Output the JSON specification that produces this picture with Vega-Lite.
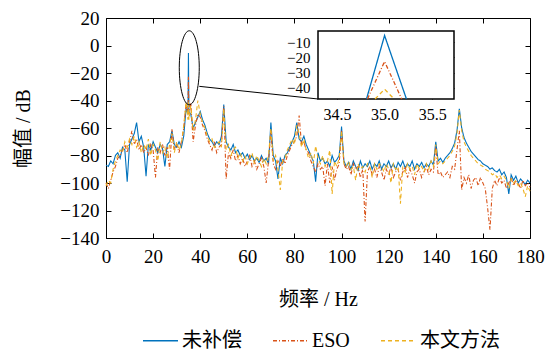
{
"$schema": "https://vega.github.io/schema/vega-lite/v6.json",
"width": 424,
"height": 220,
"padding": {"left": 13, "top": 9, "right": 5, "bottom": 5},
"config": {
  "font": "'Liberation Serif', 'Times New Roman', 'Noto Sans CJK SC', serif",
  "view": {"stroke": "black", "strokeWidth": 1},
  "axis": {"grid": false, "domain": false, "tickSize": -5, "tickColor": "black", "tickWidth": 1, "labelFont": "'Liberation Serif', 'Times New Roman', serif", "labelFontSize": 19, "labelColor": "black", "labelFlush": false, "labelOverlap": false, "titleFont": "'Liberation Serif', 'Times New Roman', 'Noto Sans CJK SC', serif", "titleFontSize": 20, "titleFontWeight": "normal", "titleColor": "black"},
  "legend": {"labelFont": "'Liberation Serif', 'Times New Roman', 'Noto Sans CJK SC', serif", "labelFontSize": 20, "labelColor": "black", "symbolType": "stroke", "symbolSize": 1225, "symbolStrokeWidth": 1.5, "columnPadding": 28, "labelOffset": 3, "padding": 0}
},
"layer": [
  {
    "data": {"values": [
{"f":0,"u":-87,"e":-100,"p":-102},{"f":1,"u":-88,"e":-104,"p":-98},{"f":2,"u":-84,"e":-98,"p":-100},{"f":3,"u":-86,"e":-92,"p":-90},{"f":4,"u":-80,"e":-88,"p":-84},{"f":5,"u":-78,"e":-82,"p":-80},{"f":6,"u":-82,"e":-80,"p":-76},{"f":7,"u":-74,"e":-76,"p":-78},{"f":8,"u":-76,"e":-72,"p":-70},{"f":9,"u":-99,"e":-78,"p":-74},
{"f":10,"u":-72,"e":-70,"p":-68},{"f":11,"u":-68,"e":-62,"p":-72},{"f":12,"u":-64,"e":-72,"p":-66},{"f":13,"u":-56,"e":-68,"p":-74},{"f":14,"u":-70,"e":-76,"p":-70},{"f":15,"u":-66,"e":-72,"p":-78},{"f":16,"u":-74,"e":-78,"p":-72},{"f":17,"u":-95,"e":-74,"p":-76},{"f":18,"u":-72,"e":-80,"p":-68},{"f":19,"u":-76,"e":-72,"p":-80},
{"f":20,"u":-70,"e":-76,"p":-72},{"f":21,"u":-74,"e":-96,"p":-76},{"f":22,"u":-78,"e":-74,"p":-84},{"f":23,"u":-72,"e":-78,"p":-70},{"f":24,"u":-75,"e":-72,"p":-78},{"f":25,"u":-88,"e":-80,"p":-74},{"f":26,"u":-72,"e":-74,"p":-82},{"f":27,"u":-70,"e":-90,"p":-72},{"f":28,"u":-62,"e":-61,"p":-64},{"f":29,"u":-72,"e":-76,"p":-78},
{"f":30,"u":-74,"e":-72,"p":-70},{"f":31,"u":-70,"e":-78,"p":-76},{"f":32,"u":-74,"e":-70,"p":-72},{"f":33,"u":-66,"e":-60,"p":-58},{"f":34,"u":-46,"e":-42,"p":-41},{"f":34.8,"u":-50,"e":-50,"p":-54},{"f":35,"u":-5.5,"e":-22.7,"p":-41},{"f":35.2,"u":-48,"e":-50,"p":-54},{"f":36,"u":-50,"e":-42,"p":-44},{"f":37,"u":-60,"e":-70,"p":-62},{"f":38,"u":-56,"e":-58,"p":-54},{"f":39,"u":-52,"e":-50,"p":-40},
{"f":40,"u":-48,"e":-52,"p":-50},{"f":41,"u":-54,"e":-58,"p":-56},{"f":42,"u":-58,"e":-62,"p":-60},{"f":43,"u":-64,"e":-68,"p":-66},{"f":44,"u":-68,"e":-72,"p":-70},{"f":45,"u":-70,"e":-76,"p":-68},{"f":46,"u":-73,"e":-70,"p":-74},{"f":47,"u":-70,"e":-78,"p":-72},{"f":48,"u":-72,"e":-74,"p":-70},{"f":49,"u":-66,"e":-72,"p":-74},
{"f":50,"u":-43,"e":-44,"p":-46},{"f":51,"u":-70,"e":-97,"p":-76},{"f":52,"u":-74,"e":-78,"p":-72},{"f":53,"u":-76,"e":-82,"p":-80},{"f":54,"u":-72,"e":-76,"p":-76},{"f":55,"u":-78,"e":-84,"p":-74},{"f":56,"u":-76,"e":-80,"p":-82},{"f":57,"u":-80,"e":-86,"p":-78},{"f":58,"u":-78,"e":-82,"p":-84},{"f":59,"u":-82,"e":-88,"p":-80},
{"f":60,"u":-79,"e":-84,"p":-86},{"f":61,"u":-83,"e":-80,"p":-82},{"f":62,"u":-80,"e":-88,"p":-78},{"f":63,"u":-84,"e":-84,"p":-86},{"f":64,"u":-82,"e":-90,"p":-80},{"f":65,"u":-85,"e":-86,"p":-84},{"f":66,"u":-80,"e":-82,"p":-88},{"f":67,"u":-84,"e":-88,"p":-82},{"f":68,"u":-82,"e":-100,"p":-86},{"f":69,"u":-86,"e":-84,"p":-80},
{"f":70,"u":-56,"e":-62,"p":-60},{"f":71,"u":-80,"e":-86,"p":-84},{"f":72,"u":-84,"e":-90,"p":-80},{"f":73,"u":-97,"e":-84,"p":-90},{"f":74,"u":-82,"e":-88,"p":-105},{"f":75,"u":-86,"e":-82,"p":-84},{"f":76,"u":-80,"e":-86,"p":-82},{"f":77,"u":-78,"e":-80,"p":-76},{"f":78,"u":-74,"e":-76,"p":-72},{"f":79,"u":-70,"e":-72,"p":-68},
{"f":80,"u":-66,"e":-70,"p":-72},{"f":81,"u":-56,"e":-66,"p":-58},{"f":82,"u":-68,"e":-51,"p":-64},{"f":83,"u":-70,"e":-72,"p":-74},{"f":84,"u":-66,"e":-70,"p":-68},{"f":85,"u":-72,"e":-76,"p":-76},{"f":86,"u":-76,"e":-78,"p":-82},{"f":87,"u":-80,"e":-84,"p":-78},{"f":88,"u":-84,"e":-88,"p":-86},{"f":89,"u":-99,"e":-92,"p":-73},
{"f":90,"u":-78,"e":-86,"p":-82},{"f":91,"u":-84,"e":-90,"p":-86},{"f":92,"u":-82,"e":-88,"p":-80},{"f":93,"u":-86,"e":-102,"p":-88},{"f":94,"u":-84,"e":-86,"p":-84},{"f":95,"u":-88,"e":-100,"p":-76},{"f":96,"u":-80,"e":-88,"p":-108},{"f":97,"u":-85,"e":-98,"p":-84},{"f":98,"u":-83,"e":-90,"p":-88},{"f":99,"u":-80,"e":-86,"p":-82},
{"f":100,"u":-59,"e":-62,"p":-62},{"f":101,"u":-84,"e":-86,"p":-86},{"f":102,"u":-88,"e":-90,"p":-88},{"f":103,"u":-85,"e":-88,"p":-84},{"f":104,"u":-90,"e":-94,"p":-90},{"f":105,"u":-84,"e":-86,"p":-88},{"f":106,"u":-88,"e":-90,"p":-98},{"f":107,"u":-91,"e":-88,"p":-86},{"f":108,"u":-84,"e":-96,"p":-90},{"f":109,"u":-89,"e":-90,"p":-88},
{"f":110,"u":-86,"e":-128,"p":-92},{"f":111,"u":-88,"e":-92,"p":-86},{"f":112,"u":-84,"e":-88,"p":-88},{"f":113,"u":-90,"e":-94,"p":-96},{"f":114,"u":-86,"e":-90,"p":-86},{"f":115,"u":-88,"e":-96,"p":-90},{"f":116,"u":-84,"e":-88,"p":-86},{"f":117,"u":-90,"e":-92,"p":-88},{"f":118,"u":-86,"e":-98,"p":-92},{"f":119,"u":-88,"e":-90,"p":-86},
{"f":120,"u":-84,"e":-94,"p":-90},{"f":121,"u":-89,"e":-88,"p":-100},{"f":122,"u":-86,"e":-96,"p":-86},{"f":123,"u":-90,"e":-92,"p":-90},{"f":124,"u":-85,"e":-90,"p":-88},{"f":125,"u":-88,"e":-98,"p":-115},{"f":126,"u":-84,"e":-92,"p":-88},{"f":127,"u":-89,"e":-88,"p":-92},{"f":128,"u":-86,"e":-96,"p":-86},{"f":129,"u":-88,"e":-90,"p":-90},
{"f":130,"u":-84,"e":-94,"p":-88},{"f":131,"u":-90,"e":-100,"p":-94},{"f":132,"u":-86,"e":-92,"p":-86},{"f":133,"u":-88,"e":-90,"p":-90},{"f":134,"u":-85,"e":-96,"p":-88},{"f":135,"u":-89,"e":-92,"p":-92},{"f":136,"u":-86,"e":-88,"p":-86},{"f":137,"u":-88,"e":-94,"p":-90},{"f":138,"u":-84,"e":-90,"p":-84},{"f":139,"u":-87,"e":-92,"p":-88},
{"f":140,"u":-70,"e":-74,"p":-72},{"f":141,"u":-84,"e":-94,"p":-86},{"f":142,"u":-82,"e":-92,"p":-84},{"f":143,"u":-85,"e":-96,"p":-86},{"f":144,"u":-82,"e":-94,"p":-84},{"f":145,"u":-80,"e":-92,"p":-82},{"f":146,"u":-78,"e":-96,"p":-80},{"f":147,"u":-75,"e":-88,"p":-77},{"f":148,"u":-71,"e":-90,"p":-73},{"f":149,"u":-62,"e":-76,"p":-64},
{"f":150,"u":-46,"e":-62,"p":-47},{"f":151,"u":-60,"e":-105,"p":-62},{"f":152,"u":-67,"e":-96,"p":-70},{"f":153,"u":-71,"e":-100,"p":-74},{"f":154,"u":-74,"e":-94,"p":-77},{"f":155,"u":-77,"e":-104,"p":-80},{"f":156,"u":-79,"e":-98,"p":-82},{"f":157,"u":-81,"e":-96,"p":-84},{"f":158,"u":-83,"e":-102,"p":-86},{"f":159,"u":-84,"e":-96,"p":-87},
{"f":160,"u":-86,"e":-100,"p":-88},{"f":161,"u":-87,"e":-104,"p":-90},{"f":162,"u":-88,"e":-118,"p":-91},{"f":163,"u":-90,"e":-134,"p":-92},{"f":164,"u":-89,"e":-104,"p":-94},{"f":165,"u":-91,"e":-98,"p":-93},{"f":166,"u":-92,"e":-102,"p":-96},{"f":167,"u":-90,"e":-96,"p":-94},{"f":168,"u":-94,"e":-100,"p":-97},{"f":169,"u":-92,"e":-98,"p":-95},
{"f":170,"u":-96,"e":-104,"p":-98},{"f":171,"u":-108,"e":-100,"p":-104},{"f":172,"u":-94,"e":-96,"p":-97},{"f":173,"u":-98,"e":-102,"p":-100},{"f":174,"u":-95,"e":-98,"p":-98},{"f":175,"u":-100,"e":-100,"p":-102},{"f":176,"u":-97,"e":-104,"p":-100},{"f":177,"u":-99,"e":-98,"p":-104},{"f":178,"u":-101,"e":-102,"p":-110},{"f":179,"u":-98,"e":-100,"p":-102},{"f":180,"u":-100,"e":-103,"p":-106}
    ]},
    "transform": [{"fold": ["u", "e", "p"]}],
    "mark": {"type": "line", "strokeWidth": 1.1},
    "encoding": {
      "x": {"field": "f", "type": "quantitative", "scale": {"domain": [0, 180], "nice": false, "zero": false}, "axis": {"values": [0,20,40,60,80,100,120,140,160,180], "title": "频率 / Hz", "labelPadding": 14, "titlePadding": 23}},
      "y": {"field": "value", "type": "quantitative", "scale": {"domain": [-140, 20], "nice": false, "zero": false}, "axis": {"values": [-140,-120,-100,-80,-60,-40,-20,0,20], "title": "幅值 / dB", "labelPadding": 12, "titlePadding": 26}},
      "color": {"field": "key", "type": "nominal", "scale": {"domain": ["u", "e", "p"], "range": ["#0072BD", "#D95319", "#EDB120"]}, "legend": {"orient": "none", "legendX": 36, "legendY": 304, "direction": "horizontal", "title": null, "labelExpr": "datum.label == 'u' ? '未补偿' : datum.label == 'e' ? 'ESO' : '本文方法'"}},
      "strokeDash": {"field": "key", "type": "nominal", "scale": {"domain": ["u", "e", "p"], "range": [[1, 0], [4, 2, 1, 2], [4, 3]]}, "legend": {"orient": "none", "legendX": 36, "legendY": 304, "direction": "horizontal", "title": null, "labelExpr": "datum.label == 'u' ? '未补偿' : datum.label == 'e' ? 'ESO' : '本文方法'"}}
    }
  },
  {
    "data": {"values": [{"f": 35.35, "v": -16.2}]},
    "mark": {"type": "point", "shape": "M0,-1C0.149,-1,0.27,-0.552,0.27,0C0.27,0.552,0.149,1,0,1C-0.149,1,-0.27,0.552,-0.27,0C-0.27,-0.552,-0.149,-1,0,-1Z", "size": 5476, "filled": false, "stroke": "black", "strokeWidth": 1, "opacity": 1},
    "encoding": {
      "x": {"field": "f", "type": "quantitative", "scale": {"domain": [0, 180], "nice": false, "zero": false}, "axis": {"orient": "top", "values": [0,20,40,60,80,100,120,140,160,180], "labels": false, "title": null}},
      "y": {"field": "v", "type": "quantitative", "scale": {"domain": [-140, 20], "nice": false, "zero": false}, "axis": {"orient": "right", "values": [-140,-120,-100,-80,-60,-40,-20,0,20], "labels": false, "title": null}}
    }
  },
  {
    "data": {"values": [{"f": 39.6, "v": -29.7, "f2": 90, "v2": -38.9}]},
    "mark": {"type": "rule", "color": "black", "strokeWidth": 1},
    "encoding": {
      "x": {"field": "f", "type": "quantitative", "scale": {"domain": [0, 180], "nice": false, "zero": false}, "axis": null},
      "y": {"field": "v", "type": "quantitative", "scale": {"domain": [-140, 20], "nice": false, "zero": false}, "axis": null},
      "x2": {"field": "f2"},
      "y2": {"field": "v2"}
    }
  },
  {
    "data": {"values": [{"x": 34.3, "x2": 35.73, "y": -47.5, "y2": -2.5}]},
    "mark": {"type": "rect", "fill": "white", "stroke": "black", "strokeWidth": 1.5},
    "encoding": {
      "x": {"field": "x", "type": "quantitative", "scale": {"domain": [34.3, 35.73], "range": [212, 348], "nice": false, "zero": false}, "axis": {"orient": "top", "offset": -13, "values": [34.5, 35, 35.5], "labels": false, "title": null}},
      "y": {"field": "y", "type": "quantitative", "scale": {"domain": [-47.5, -2.5], "range": [81, 13], "nice": false, "zero": false}, "axis": {"orient": "right", "offset": -76, "values": [-40, -30, -20, -10], "labels": false, "title": null}},
      "x2": {"field": "x2"},
      "y2": {"field": "y2"}
    }
  },
  {
    "data": {"values": [
      {"f": 34.81, "value": -47.5, "key": "u"}, {"f": 35, "value": -5.5, "key": "u"}, {"f": 35.23, "value": -47.5, "key": "u"},
      {"f": 34.82, "value": -47.5, "key": "e"}, {"f": 35, "value": -22.7, "key": "e"}, {"f": 35.18, "value": -47.5, "key": "e"},
      {"f": 34.9, "value": -47.5, "key": "p"}, {"f": 35, "value": -41, "key": "p"}, {"f": 35.1, "value": -47.5, "key": "p"}
    ]},
    "mark": {"type": "line", "strokeWidth": 1.3},
    "encoding": {
      "x": {"field": "f", "type": "quantitative", "scale": {"domain": [34.3, 35.73], "range": [212, 348], "nice": false, "zero": false}, "axis": {"orient": "bottom", "offset": -139, "values": [34.5, 35, 35.5], "format": ".1f", "labelFontSize": 16, "labelPadding": 12, "title": null}},
      "y": {"field": "value", "type": "quantitative", "scale": {"domain": [-47.5, -2.5], "range": [81, 13], "nice": false, "zero": false}, "axis": {"orient": "left", "offset": -212, "values": [-40, -30, -20, -10], "labelFontSize": 15, "labelPadding": 13, "title": null}},
      "color": {"field": "key", "type": "nominal", "legend": null},
      "strokeDash": {"field": "key", "type": "nominal", "legend": null}
    }
  }
],
"resolve": {"scale": {"x": "independent", "y": "independent"}, "axis": {"x": "independent", "y": "independent"}}
}
